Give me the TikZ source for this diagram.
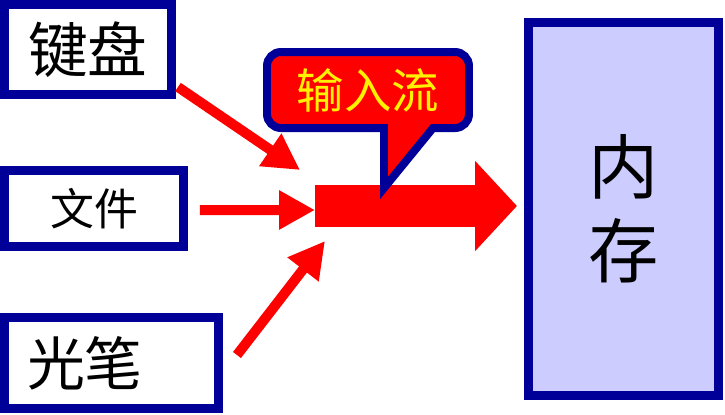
\documentclass[tikz,border=0pt]{standalone}
\usepackage{fontspec}
\newfontfamily\cjk{Noto Sans CJK SC}
\usetikzlibrary{arrows.meta,calc}
\definecolor{boxblue}{RGB}{0,0,153}
\definecolor{memfill}{RGB}{204,204,255}
\begin{document}
\begin{tikzpicture}[x=0.02cm,y=-0.02cm,
    devbox/.style={draw=boxblue,line width=0.18cm,fill=white,inner sep=0pt,font=\cjk},
    feed/.style={red,line width=0.2cm,-{Triangle[length=0.72cm,width=0.74cm]}},
    flow/.style={red,line width=0.84cm,-{Triangle[length=0.84cm,width=1.76cm]}},
    callout/.style={fill=red,draw=boxblue,line width=0.16cm,line join=miter}]
  \useasboundingbox (0,0) rectangle (725,414);
  \node[devbox,minimum width=3.34cm,minimum height=1.8cm,font=\cjk\fontsize{34}{36}\selectfont] (kbd) at (88,49.5) {键盘};
  \node[devbox,minimum width=3.58cm,minimum height=1.52cm,font=\cjk\fontsize{25}{27}\selectfont] (file) at (94,208.5) {文件};
  \node[devbox,minimum width=4.28cm,minimum height=1.82cm,text width=3.38cm,align=left,font=\cjk\fontsize{33}{35}\selectfont] (pen) at (111.5,363) {光笔};
  \node[devbox,fill=memfill,minimum width=3.8cm,minimum height=7.46cm,align=center,font=\cjk\fontsize{40}{48}\selectfont] (mem) at (623.75,209) {内\\存};
  % arrows into the stream
  \coordinate (in1) at (300,170);
  \coordinate (in2) at (315,210);
  \coordinate (in3) at (325,241);
  \draw[feed] ($(kbd.south east)+(2,-12)$) -- (in1);
  \draw[feed] ($(file.east)+(12,1.5)$) -- (in2);
  \draw[feed] ($(pen.east)+(14,-8)$) -- (in3);
  \coordinate (tail) at (315,206);
  \coordinate (head) at (517,206);
  \draw[flow] (tail) -- (head);
  % the label bubble
  \draw[callout] (384,188) -- (384,128) [rounded corners=0.28cm] -- (267,128) -- (267,52) -- (469,52) -- (469,128) [sharp corners] -- (433,128) -- cycle;
  \node[text=yellow,font=\cjk\fontsize{27}{29}\selectfont] (tag) at (368,90) {输入流};
\end{tikzpicture}
\end{document}
